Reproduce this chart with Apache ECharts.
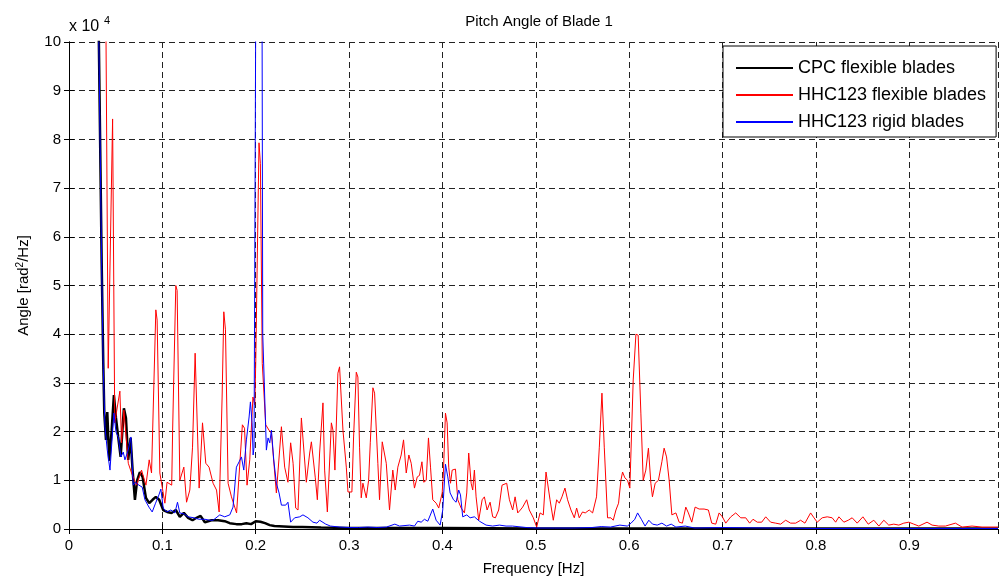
<!DOCTYPE html>
<html>
<head>
<meta charset="utf-8">
<script src="https://cdn.jsdelivr.net/npm/echarts@6/dist/echarts.min.js"></script>
<style>
  html, body { margin: 0; padding: 0; background: #fff; }
  #main { width: 999px; height: 581px; }
</style>
</head>
<body>
<div id="main"></div>
<script>
// values are in units of 10^4 rad^2/Hz (see the "x 10^4" mark on the y axis)
var legendNames = ['CPC flexible blades', 'HHC123 flexible blades', 'HHC123 rigid blades'];
var xTicks = [0, 0.1, 0.2, 0.3, 0.4, 0.5, 0.6, 0.7, 0.8, 0.9];
var yTicks = [0, 1, 2, 3, 4, 5, 6, 7, 8, 9, 10];

// CPC flexible blades
var cpcFreq = [0.03, 0.035, 0.0367, 0.0378, 0.0396, 0.041, 0.0431, 0.0457, 0.0481, 0.0503, 0.0527, 0.0553,
  0.0588, 0.061, 0.0634, 0.066, 0.0681, 0.0706, 0.073, 0.0759, 0.0788, 0.0824, 0.0859, 0.0895, 0.093, 0.0966,
  0.1009, 0.1051, 0.1098, 0.1144, 0.1187, 0.123, 0.1276, 0.1323, 0.1366, 0.1409, 0.1455, 0.1526, 0.1597,
  0.1668, 0.1722, 0.1793, 0.185, 0.19, 0.195, 0.2, 0.205, 0.21, 0.215, 0.22, 0.23, 0.24, 0.25, 0.27, 0.3,
  0.35, 0.4, 0.5, 0.6, 0.8, 0.995];
var cpcVal = [13, 5.46, 3.41, 2.38, 1.83, 2.4, 1.4, 2.03, 2.75, 2.28, 1.89, 1.48,
  2.48, 2.28, 1.42, 1.87, 1.21, 0.6, 1.0, 1.17, 1.07, 0.64, 0.53, 0.6, 0.66, 0.6,
  0.39, 0.35, 0.33, 0.39, 0.25, 0.33, 0.23, 0.18, 0.23, 0.27, 0.14, 0.18, 0.18,
  0.16, 0.12, 0.1, 0.1, 0.12, 0.1, 0.16, 0.15, 0.12, 0.08, 0.06, 0.05, 0.04, 0.04, 0.03, 0.02,
  0.02, 0.02, 0.01, 0.01, 0.01, 0.01];

// HHC123 flexible blades
var hhcFlexFreq = [0.036, 0.0395, 0.042, 0.0467, 0.049, 0.0545, 0.0563, 0.0588, 0.0635, 0.067, 0.0724, 0.0777,
  0.0824, 0.0859, 0.0884, 0.093, 0.0944, 0.0973, 0.1027, 0.105, 0.11, 0.111, 0.1144, 0.1158, 0.1187, 0.123,
  0.1259, 0.1294, 0.1323, 0.1351, 0.1394, 0.143, 0.1465, 0.15, 0.1543, 0.158, 0.1608, 0.164, 0.1658, 0.1676,
  0.1704, 0.174, 0.1775, 0.1795, 0.1857, 0.188, 0.1907, 0.1936, 0.197, 0.199, 0.2, 0.2035, 0.205, 0.207,
  0.2107, 0.2142, 0.2168, 0.2221, 0.2275, 0.231, 0.2345, 0.2374, 0.24, 0.2428, 0.2453, 0.2489, 0.2506, 0.2542,
  0.2578, 0.2596, 0.2613, 0.2638, 0.266, 0.2684, 0.272, 0.2738, 0.2767, 0.281, 0.2827, 0.2848, 0.288, 0.2898,
  0.2934, 0.297, 0.2988, 0.303, 0.3048, 0.3077, 0.3094, 0.3112, 0.313, 0.3148, 0.3166, 0.3184, 0.3209, 0.3227,
  0.3255, 0.3273, 0.3308, 0.3326, 0.3355, 0.3369, 0.3398, 0.3433, 0.3468, 0.3494, 0.3522, 0.3558, 0.3583,
  0.3612, 0.364, 0.3665, 0.37, 0.373, 0.3754, 0.378, 0.38, 0.3826, 0.385, 0.3872, 0.3896, 0.3933, 0.396,
  0.3997, 0.401, 0.4032, 0.405, 0.4067, 0.4086, 0.4104, 0.4139, 0.4164, 0.42, 0.4235, 0.426, 0.4281, 0.4307,
  0.4324, 0.4342, 0.436, 0.4388, 0.4425, 0.4449, 0.4478, 0.451, 0.4538, 0.4567, 0.4602, 0.4638, 0.4688,
  0.4717, 0.4752, 0.4778, 0.4806, 0.4834, 0.4859, 0.4902, 0.493, 0.4973, 0.5009, 0.5045, 0.508, 0.5109,
  0.5126, 0.5152, 0.5187, 0.5223, 0.5251, 0.528, 0.5312, 0.534, 0.5376, 0.5412, 0.5437, 0.5465, 0.55, 0.5529,
  0.5572, 0.5608, 0.565, 0.568, 0.5708, 0.5733, 0.5768, 0.5804, 0.5829, 0.5858, 0.5886, 0.5911, 0.5929,
  0.5954, 0.5982, 0.6007, 0.6043, 0.6072, 0.6096, 0.6125, 0.615, 0.6178, 0.6206, 0.6232, 0.6249, 0.6278,
  0.6313, 0.635, 0.6374, 0.64, 0.6428, 0.6457, 0.65, 0.6535, 0.657, 0.6606, 0.6634, 0.667, 0.6706, 0.6749,
  0.6802, 0.6848, 0.6884, 0.6927, 0.6963, 0.6998, 0.7034, 0.7088, 0.7141, 0.7195, 0.7248, 0.729, 0.7326,
  0.7372, 0.7419, 0.7462, 0.7515, 0.7569, 0.7622, 0.7676, 0.7729, 0.7783, 0.7836, 0.7882, 0.7943, 0.7979,
  0.8014, 0.8067, 0.8121, 0.8174, 0.8211, 0.8246, 0.8299, 0.8346, 0.8388, 0.8442, 0.8503, 0.856, 0.862,
  0.8674, 0.8727, 0.878, 0.8834, 0.8888, 0.8941, 0.8995, 0.9048, 0.9102, 0.919, 0.9244, 0.9316, 0.9387,
  0.9494, 0.9565, 0.9672, 0.9779, 0.9886, 0.995];
var hhcFlexVal = [16, 10.5, 3.3, 8.42, 2.18, 2.83, 1.77, 2.44, 1.35, 1.15, 0.9, 1.21,
  0.9, 1.42, 1.15, 4.5, 4.29, 1.15, 0.53, 0.96, 0.9, 2.03, 5.0, 4.9, 1.0, 1.27,
  0.55, 0.8, 1.68, 3.61, 0.84, 2.18, 1.35, 1.27, 0.94, 0.8, 0.35, 2.71, 4.46, 4.09,
  0.94, 0.66, 0.45, 0.33, 2.14, 2.07, 0.9, 1.42, 2.71, 2.55, 3.4, 7.93, 7.5, 3.4,
  2.14, 2.03, 1.97, 0.74, 2.1, 1.27, 0.96, 1.77, 1.35, 0.43, 0.39, 2.28, 2.28, 0.96,
  1.56, 1.79, 1.83, 1.05, 0.6, 1.56, 2.59, 1.21, 0.35, 2.18, 2.03, 1.21, 3.2, 3.33,
  2.03, 1.27, 0.76, 0.76, 1.89, 3.22, 3.12, 1.68, 0.64, 0.94, 0.9, 0.64, 1.0, 1.77,
  2.9, 2.79, 1.35, 0.6, 1.79, 1.77, 1.35, 0.39, 1.21, 0.8, 1.27, 1.52, 1.83,
  1.15, 1.52, 1.35, 0.84, 1.07, 1.1, 1.38, 0.96, 1.0, 1.87, 1.27, 0.6, 0.53, 0.43,
  0.74, 1.15, 2.38, 2.18, 1.27, 0.94, 1.21, 1.23, 0.6, 0.43, 0.33, 0.74, 1.56, 0.94,
  0.8, 1.21, 0.66, 0.18, 0.6, 0.66, 0.39, 0.55, 0.25, 0.23, 0.39, 0.9, 0.94,
  0.6, 0.39, 0.66, 0.33, 0.39, 0.45, 0.6, 0.39, 0.23, 0.04, 0.33, 0.29, 1.17,
  1.15, 0.6, 0.18, 0.6, 0.53, 0.66, 0.84, 0.6, 0.39, 0.23, 0.43, 0.23, 0.35, 0.33,
  0.39, 0.33, 0.66, 1.68, 2.79, 1.68, 0.23, 0.23, 0.18, 0.39, 0.53, 1.0, 1.17,
  1.05, 1.0, 0.84, 3.06, 4.0, 3.98, 2.38, 1.0, 1.21, 1.66, 0.94, 0.66, 0.94,
  1.0, 1.38, 1.66, 1.48, 1.0, 0.29, 0.33, 0.14, 0.12, 0.45, 0.33, 0.14, 0.45, 0.41,
  0.41, 0.39, 0.12, 0.1, 0.33, 0.25, 0.12, 0.25, 0.33, 0.23, 0.23, 0.12, 0.2,
  0.14, 0.14, 0.25, 0.14, 0.12, 0.1, 0.18, 0.12, 0.12, 0.18, 0.12, 0.33, 0.23,
  0.14, 0.23, 0.25, 0.23, 0.14, 0.25, 0.14, 0.18, 0.23, 0.12, 0.25, 0.1, 0.18,
  0.06, 0.18, 0.08, 0.1, 0.08, 0.12, 0.14, 0.1, 0.06, 0.14, 0.08, 0.06, 0.06,
  0.12, 0.04, 0.06, 0.04, 0.04, 0.04];

// HHC123 rigid blades
var hhcRigidFreq = [0.03, 0.035, 0.0367, 0.0385, 0.041, 0.0439, 0.0463, 0.0481, 0.0503, 0.0527, 0.0556, 0.0581,
  0.0599, 0.0634, 0.0663, 0.0688, 0.0713, 0.0749, 0.0784, 0.0813, 0.0856, 0.0891, 0.0927, 0.0963, 0.0984,
  0.1009, 0.1045, 0.1091, 0.1134, 0.1162, 0.1187, 0.1233, 0.1276, 0.134, 0.139, 0.1455, 0.1508, 0.1543,
  0.1615, 0.1668, 0.1722, 0.1757, 0.1793, 0.1822, 0.1847, 0.1872, 0.19, 0.1929, 0.1943, 0.1961, 0.1972,
  0.1982, 0.2005, 0.2065, 0.2075, 0.2114, 0.2132, 0.215, 0.2168, 0.2193, 0.2221, 0.225, 0.2275, 0.2321,
  0.2345, 0.2374, 0.2417, 0.2471, 0.2506, 0.2559, 0.2613, 0.2656, 0.2684, 0.275, 0.28, 0.29, 0.3, 0.31, 0.32,
  0.33, 0.34, 0.349, 0.354, 0.3647, 0.37, 0.3736, 0.3772, 0.3807, 0.3843, 0.3896, 0.3932, 0.3975, 0.4003,
  0.4032, 0.4057, 0.4082, 0.4118, 0.4146, 0.4174, 0.4193, 0.4217, 0.426, 0.4296, 0.4342, 0.4396, 0.4467,
  0.4538, 0.461, 0.4681, 0.475, 0.49, 0.5, 0.52, 0.54, 0.56, 0.57, 0.58, 0.59, 0.598, 0.602, 0.606, 0.609,
  0.613, 0.617, 0.621, 0.625, 0.63, 0.635, 0.64, 0.645, 0.65, 0.66, 0.67, 0.7, 0.75, 0.8, 0.9, 0.995];
var hhcRigidVal = [13, 5.4, 3.3, 2.1, 1.62, 1.21, 1.89, 2.38, 1.99, 1.89, 1.48, 1.58,
  1.42, 1.62, 1.89, 0.9, 0.96, 0.9, 0.86, 0.6, 0.45, 0.35, 0.53, 0.7, 0.82,
  0.43, 0.35, 0.39, 0.33, 0.55, 0.33, 0.31, 0.25, 0.23, 0.2, 0.2, 0.18, 0.18,
  0.29, 0.25, 0.29, 0.45, 1.27, 1.38, 1.48, 1.21, 1.83, 2.3, 2.61, 2.18, 1.52,
  1.68, 13, 13, 4, 1.62, 1.87, 1.77, 2.03, 1.42, 0.94, 0.74, 0.49, 0.49,
  0.55, 0.14, 0.23, 0.25, 0.29, 0.23, 0.14, 0.12, 0.18, 0.1, 0.06, 0.04, 0.03, 0.03, 0.04,
  0.03, 0.04, 0.1, 0.06, 0.08, 0.06, 0.16, 0.14, 0.2, 0.16, 0.41, 0.18, 0.08, 0.39,
  1.33, 1.07, 0.74, 0.6, 0.55, 0.8, 0.7, 0.25, 0.29, 0.23, 0.25, 0.16, 0.08,
  0.06, 0.08, 0.06, 0.06, 0.03, 0.02, 0.02, 0.02, 0.03, 0.05, 0.04, 0.08, 0.06, 0.12, 0.2, 0.33,
  0.2, 0.06, 0.18, 0.1, 0.08, 0.12, 0.06, 0.1, 0.04, 0.06, 0.02, 0.03, 0.02, 0.01, 0.01, 0.01];

function pairs(freq, val) {
  return freq.map(function (f, i) { return [f, val[i]]; });
}

var font = 'Liberation Sans, Arial, Helvetica, sans-serif';
var gridLine = { show: true, lineStyle: { color: '#222', type: [6, 4], width: 1 } };
var boxLine = { show: true, lineStyle: { color: '#000', width: 1 } };
var inTick = { show: true, inside: true, length: 5, lineStyle: { color: '#000' } };

var myChart = echarts.init(document.getElementById('main'));
myChart.setOption({
  animation: false,
  backgroundColor: '#fff',
  title: {
    text: 'Pitch Angle of Blade 1',
    left: 534,
    top: 9,
    textAlign: 'center',
    textStyle: { fontFamily: font, fontSize: 15, fontWeight: 'normal', color: '#000' }
  },
  graphic: [
    // the "x 10^4" scale mark above the y axis
    { type: 'text', left: 69, top: 19, style: { text: 'x 10', font: '16px ' + font, fill: '#000' } },
    { type: 'text', left: 104, top: 15, style: { text: '4', font: '11px ' + font, fill: '#000' } }
  ],
  legend: {
    orient: 'vertical',
    left: 723,
    top: 46,
    padding: [13, 10, 6, 12],
    itemWidth: 57,
    itemHeight: 16,
    itemGap: 9,
    backgroundColor: '#fff',
    borderColor: '#000',
    borderWidth: 1,
    borderRadius: 0,
    itemStyle: { opacity: 0 },  // hide the circle, keep the line
    data: legendNames,
    textStyle: { fontFamily: font, fontSize: 18, color: '#000' }
  },
  grid: { left: 69, right: 1, top: 42, bottom: 52, containLabel: false },
  xAxis: [{
    type: 'value',
    min: 0,
    max: 0.995,
    interval: 0.1,
    position: 'bottom',
    name: 'Frequency [Hz]',
    nameLocation: 'middle',
    nameGap: 32,
    nameTextStyle: { fontFamily: font, fontSize: 15, color: '#000' },
    axisLine: boxLine,
    axisTick: inTick,
    axisLabel: {
      fontFamily: font, fontSize: 15, color: '#000', margin: 9, showMaxLabel: false,
      formatter: function (v) { return xTicks.indexOf(Math.round(v * 10) / 10) >= 0 ? String(Math.round(v * 10) / 10) : ''; }
    },
    splitLine: gridLine
  }, {
    type: 'value',
    min: 0,
    max: 0.995,
    interval: 0.1,
    position: 'top',
    axisLine: boxLine,
    axisTick: inTick,
    axisLabel: { show: false },
    splitLine: { show: false }
  }],
  yAxis: [{
    type: 'value',
    min: 0,
    max: 10,
    interval: 1,
    position: 'left',
    name: 'Angle [rad{s|2}/Hz]',
    nameLocation: 'middle',
    nameGap: 36,
    nameRotate: 90,
    nameTextStyle: {
      fontFamily: font, fontSize: 15, color: '#000',
      rich: { s: { fontFamily: font, fontSize: 10, color: '#000', verticalAlign: 'top', padding: [0, 0, 8, 0] } }
    },
    axisLine: boxLine,
    axisTick: inTick,
    axisLabel: {
      fontFamily: font, fontSize: 15, color: '#000', margin: 8,
      formatter: function (v) { return yTicks.indexOf(v) >= 0 ? String(v) : ''; }
    },
    splitLine: gridLine
  }, {
    type: 'value',
    min: 0,
    max: 10,
    interval: 1,
    position: 'right',
    axisLine: boxLine,
    axisTick: inTick,
    axisLabel: { show: false },
    splitLine: { show: false }
  }],
  series: [
    {
      name: legendNames[0],
      type: 'line',
      symbol: 'none',
      clip: true,
      data: pairs(cpcFreq, cpcVal),
      lineStyle: { color: '#000', width: 2.5 },
      itemStyle: { color: '#000' }
    },
    {
      name: legendNames[1],
      type: 'line',
      symbol: 'none',
      clip: true,
      data: pairs(hhcFlexFreq, hhcFlexVal),
      lineStyle: { color: '#ff0000', width: 1 },
      itemStyle: { color: '#ff0000' }
    },
    {
      name: legendNames[2],
      type: 'line',
      symbol: 'none',
      clip: true,
      data: pairs(hhcRigidFreq, hhcRigidVal),
      lineStyle: { color: '#0000ff', width: 1 },
      itemStyle: { color: '#0000ff' }
    }
  ]
});
</script>
</body>
</html>
